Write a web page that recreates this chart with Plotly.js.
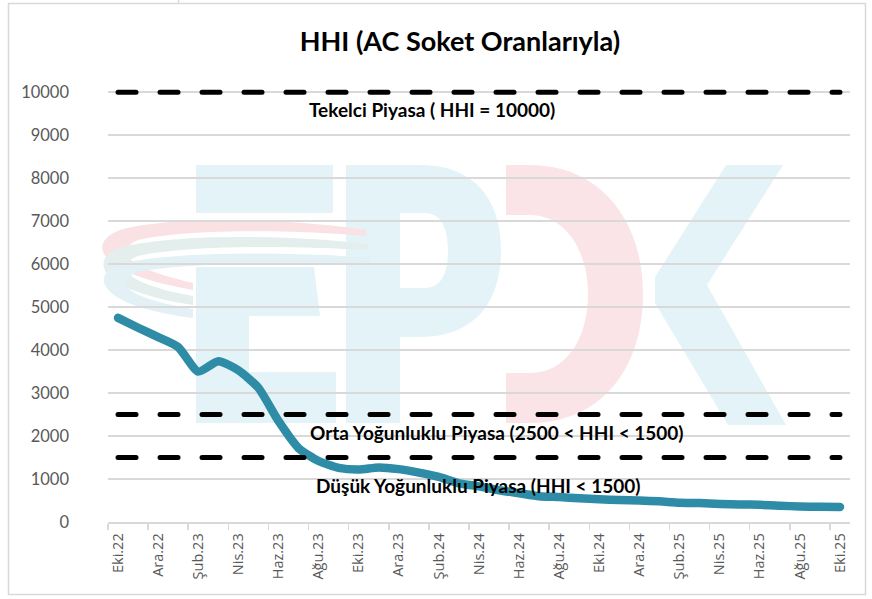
<!DOCTYPE html>
<html>
<head>
<meta charset="utf-8">
<script src="https://cdn.plot.ly/plotly-3.0.1.min.js"></script>
<style>
  html, body { margin: 0; padding: 0; background: #ffffff; }
  #chart { width: 872px; height: 599px; background-repeat: no-repeat; }
  #chart path.js-line { stroke-linecap: round !important; stroke-linejoin: round !important; }
</style>
</head>
<body>
<div id="chart"></div>
<script>
// ---- data ----
const months = [
  "Eki.22","Kas.22","Ara.22","Oca.23","Şub.23","Mar.23","Nis.23","May.23","Haz.23","Tem.23",
  "Ağu.23","Eyl.23","Eki.23","Kas.23","Ara.23","Oca.24","Şub.24","Mar.24","Nis.24","May.24",
  "Haz.24","Tem.24","Ağu.24","Eyl.24","Eki.24","Kas.24","Ara.24","Oca.25","Şub.25","Mar.25",
  "Nis.25","May.25","Haz.25","Tem.25","Ağu.25","Eyl.25","Eki.25"
];
const hhi = [
  4750, 4520, 4300, 4070, 3500, 3740, 3530, 3120, 2350, 1720,
  1420, 1260, 1220, 1270, 1230, 1150, 1050, 900, 830, 740,
  670, 600, 580, 550, 530, 510, 500, 480, 450, 440,
  420, 410, 400, 380, 360, 355, 350
];
const tekelciLevel = 10000;
const ortaLevel = 2500;
const dusukLevel = 1500;
const tekelci = months.map(() => tekelciLevel);
const orta = months.map(() => ortaLevel);
const dusuk = months.map(() => dusukLevel);
const titleText = "HHI (AC Soket Oranlarıyla)";
const labelTekelci = "Tekelci Piyasa ( HHI = 10000)";
const labelOrta = "Orta Yoğunluklu Piyasa (2500 < HHI < 1500)";
const labelDusuk = "Düşük Yoğunluklu Piyasa (HHI < 1500)";
const yTicks = [0,1000,2000,3000,4000,5000,6000,7000,8000,9000,10000];

// ---- decorative background (watermark + frame) ----
const cy = "#E3F3F7", pk = "#FBE4E7";
const svg = `<svg xmlns="http://www.w3.org/2000/svg" width="872" height="599">
<rect x="8.5" y="3.5" width="857" height="591" fill="none" stroke="#d9d9d9" stroke-width="1.5"/>
<line x1="178.5" y1="0" x2="178.5" y2="3" stroke="#d9d9d9" stroke-width="1.5"/>
<g fill="${cy}">
<rect x="196" y="165" width="137" height="48"/>
<path d="M196 267 L314 267 L320 316 L249 316 L249 372 L336 372 L336 423 L196 423 Z"/>
<path fill-rule="evenodd" d="M346 165 L420 165 C475 165 501 200 501 250 C501 302 475 337 420 337 L400 337 L400 423 L346 423 Z M400 213 L425 213 C442 213 448 230 448 250 C448 272 442 288 425 288 L400 288 Z"/>
<path d="M726 165 L783 165 L707 285 L786 425 L728 425 L655 303 L655 277 Z"/>
</g>
<path fill="${pk}" d="M506 165 L530 165 C600 165 643 220 643 294 C643 370 600 423 530 423 L506 423 L506 373 L530 373 C565 373 588 340 588 294 C588 250 565 215 530 215 L506 215 Z"/>
<path fill="#F9E1E4" d="M366 230 C300 220 180 214 120 230 C88 242 92 272 193 290 L193 283 C128 268 112 252 138 240 C190 228 300 230 366 236 Z"/>
<path fill="#E4EEEC" d="M368 244 C300 236 180 232 118 248 C90 260 96 290 193 305 L193 296 C126 284 112 266 138 256 C190 244 300 246 368 250 Z"/>
<path fill="#E3F1F6" d="M370 258 C300 252 180 250 118 264 C90 276 98 306 193 318 L193 309 C126 298 112 282 138 272 C190 262 300 262 370 264 Z"/>
</svg>`;
document.getElementById('chart').style.backgroundImage =
  'url("data:image/svg+xml;charset=utf-8,' + encodeURIComponent(svg) + '")';

// ---- chart ----
const yMax = 10120;                 // a little headroom so the 10000 line is not clipped
const W = 872, H = 599, L = 108, R = 22, B = 77;
const ph = (H - B - 92) * yMax / 10000;
const T = H - B - ph;
const pw = W - L - R;
const px = v => (v - L) / pw;
const py = v => (H - B - v) / ph;

const dashStyle = {color: "#000000", width: 5, dash: "18px,24px"};
const traces = [
  {x: months, y: hhi, type: "scatter", mode: "lines", name: "HHI",
   line: {color: "#2E8CA6", width: 8.5, shape: "spline", smoothing: 0.6}, hoverinfo: "skip"},
  {x: months, y: tekelci, type: "scatter", mode: "lines", name: "Tekelci", line: dashStyle},
  {x: months, y: orta, type: "scatter", mode: "lines", name: "Orta", line: dashStyle},
  {x: months, y: dusuk, type: "scatter", mode: "lines", name: "Düşük", line: dashStyle}
];

const annFont = {family: "Lato, sans-serif", size: 19, color: "#000000", weight: 700};
const layout = {
  width: W, height: H,
  margin: {l: L, r: R, t: T, b: B, pad: 0},
  paper_bgcolor: "rgba(0,0,0,0)",
  plot_bgcolor: "rgba(0,0,0,0)",
  showlegend: false,
  title: {text: "<b>" + titleText + "</b>", x: 460 / W, xanchor: "center", xref: "container",
          y: 1 - 42 / H, yanchor: "middle", yref: "container",
          font: {family: "Lato, sans-serif", size: 27, color: "#000000"}},
  xaxis: {type: "category", categoryorder: "array", categoryarray: months,
          range: [-0.5, months.length - 0.5],
          tickmode: "linear", tick0: 0, dtick: 2, tickson: "boundaries",
          ticks: "outside", ticklen: 6, tickcolor: "#d9d9d9", tickwidth: 1.5,
          tickangle: -90, showgrid: false, zeroline: false, ticklabelstandoff: 4,
          showline: true, linecolor: "#d9d9d9", linewidth: 1.5,
          tickfont: {family: "Open Sans, sans-serif", size: 14.5, color: "#595959"}},
  yaxis: {range: [0, yMax], tickvals: yTicks, ticktext: yTicks.map(String),
          showgrid: true, gridcolor: "#d9d9d9", gridwidth: 1.5, zeroline: false,
          showline: false, ticks: "", ticklabelstandoff: 38,
          tickfont: {family: "Lato, sans-serif", size: 16.5, color: "#595959"}},
  annotations: [
    {text: "<b>" + labelTekelci + "</b>", xref: "paper", yref: "paper", x: px(432), y: py(109),
     xanchor: "center", yanchor: "middle", showarrow: false, font: annFont},
    {text: "<b>" + labelOrta + "</b>", xref: "paper", yref: "paper", x: px(497), y: py(432),
     xanchor: "center", yanchor: "middle", showarrow: false, font: annFont},
    {text: "<b>" + labelDusuk + "</b>", xref: "paper", yref: "paper", x: px(478), y: py(485),
     xanchor: "center", yanchor: "middle", showarrow: false, font: annFont}
  ]
};

Plotly.newPlot("chart", traces, layout, {displayModeBar: false, staticPlot: true});
</script>
</body>
</html>
